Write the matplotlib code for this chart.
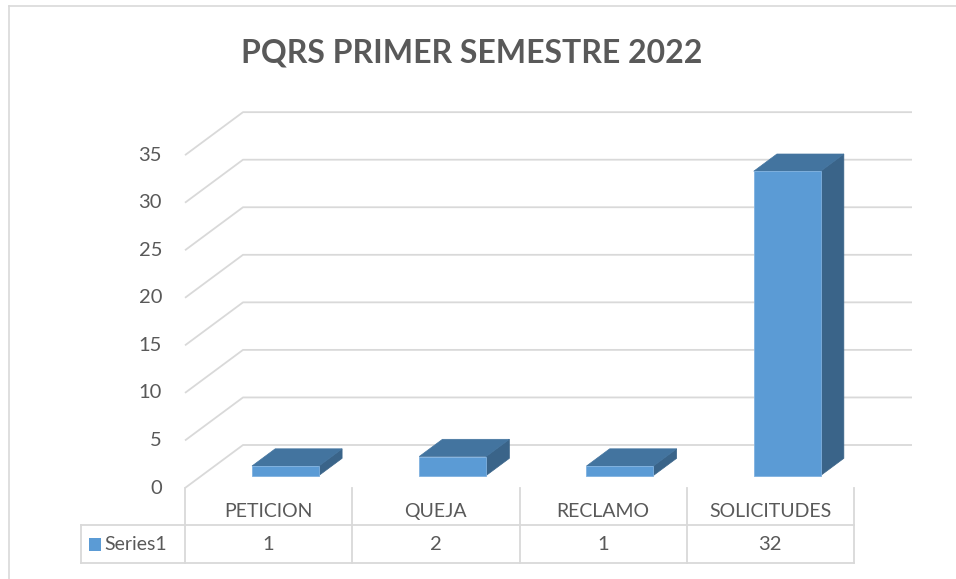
import matplotlib
matplotlib.use("Agg")
import matplotlib.pyplot as plt
import matplotlib.patches as patches
from matplotlib.lines import Line2D

# data
categories = ["PETICION", "QUEJA", "RECLAMO", "SOLICITUDES"]
values = [1, 2, 1, 32]
series_name = "Series1"
y_ticks = [0, 5, 10, 15, 20, 25, 30, 35]

# colours
TEXT = "#595959"
GRID = "#d9d9d9"
FRONT = "#5b9bd5"
TOP = "#43749f"
SIDE = "#3a6489"

plt.rcParams["font.family"] = ["Lato", "DejaVu Sans"]

W, H = 956, 579
fig = plt.figure(figsize=(W / 100, H / 100), dpi=100)

# pixel geometry of the front plane
PX_CAT = 167.25      # px per category
PX_UNIT = 9.51       # px per value unit
X0 = 185             # px of x = -0.5
Y0 = 488             # px of value 0
L, R, T, B = 60, 940, 90, 575

ax = fig.add_axes([L / W, (H - B) / H, (R - L) / W, (B - T) / H])
ax.set_xlim(-0.5 - (X0 - L) / PX_CAT, -0.5 + (R - X0) / PX_CAT)
ax.set_ylim(-(B - Y0) / PX_UNIT, (Y0 - T) / PX_UNIT)
ax.axis("off")

# depth offset of the 3D box (data units)
DX = 58 / PX_CAT
DY = 43 / PX_UNIT
n = len(categories)
x_left, x_right = -0.5, n - 0.5

# back wall gridlines + left side wall diagonals
for v in y_ticks:
    ax.plot([x_left, x_left + DX, x_right + DX], [v, v + DY, v + DY],
            color=GRID, lw=1.3, solid_capstyle="butt", zorder=1)
    ax.text(x_left - 23 / PX_CAT, v, str(v), ha="right", va="center",
            fontsize=14.5, color=TEXT)

# bars
f0, f1 = 0.29, 0.69
bw = 0.4
dd = f1 - f0
for i, v in enumerate(values):
    xl = i - bw / 2 + f0 * DX
    xr = xl + bw
    yb = f0 * DY
    yt = yb + v
    ax.add_patch(patches.Polygon([(xr, yb), (xr, yt), (xr + dd * DX, yt + dd * DY),
                                  (xr + dd * DX, yb + dd * DY)],
                                 closed=True, facecolor=SIDE, edgecolor=SIDE, lw=0.5, zorder=3))
    ax.add_patch(patches.Polygon([(xl, yt), (xr, yt), (xr + dd * DX, yt + dd * DY),
                                  (xl + dd * DX, yt + dd * DY)],
                                 closed=True, facecolor=TOP, edgecolor=TOP, lw=0.5, zorder=3))
    ax.add_patch(patches.Rectangle((xl, yb), bw, v, facecolor=FRONT,
                                   edgecolor="#7fb1e0", lw=0.6, zorder=4))

# data table
row1 = -37 / PX_UNIT
row2 = -75 / PX_UNIT
tab_left = x_left - 104 / PX_CAT
kw = dict(color=GRID, lw=1.3, clip_on=False, zorder=1)
for k in range(n + 1):
    ax.plot([x_left + k, x_left + k], [0, row2], **kw)
ax.plot([tab_left, x_right], [row1, row1], **kw)
ax.plot([tab_left, x_right], [row2, row2], **kw)
ax.plot([tab_left, tab_left], [row1, row2], **kw)

for i, (c, v) in enumerate(zip(categories, values)):
    ax.text(i, (0 + row1) / 2 - 0.5, c, ha="center", va="center", fontsize=14, color=TEXT)
    ax.text(i, (row1 + row2) / 2, str(v), ha="center", va="center", fontsize=14.5, color=TEXT)

# series key
ax.add_patch(patches.Rectangle((tab_left + 8 / PX_CAT, (row1 + row2) / 2 - 6.5 / PX_UNIT),
                               12 / PX_CAT, 13 / PX_UNIT, facecolor=FRONT,
                               edgecolor="none", clip_on=False))
ax.text(tab_left + 23 / PX_CAT, (row1 + row2) / 2, series_name, ha="left", va="center",
        fontsize=14, color=TEXT)

# title
fig.text(472 / W, 1 - 53 / H, "PQRS PRIMER SEMESTRE 2022", ha="center", va="center",
         fontsize=23, fontweight="bold", color=TEXT)

# chart border (left + top visible)
fig.add_artist(Line2D([9 / W, 9 / W], [0, 1 - 6 / H], transform=fig.transFigure, color=GRID, lw=1.2))
fig.add_artist(Line2D([9 / W, 1], [1 - 6 / H, 1 - 6 / H], transform=fig.transFigure, color=GRID, lw=1.2))

fig.savefig("out.png", dpi=100, facecolor="white")
